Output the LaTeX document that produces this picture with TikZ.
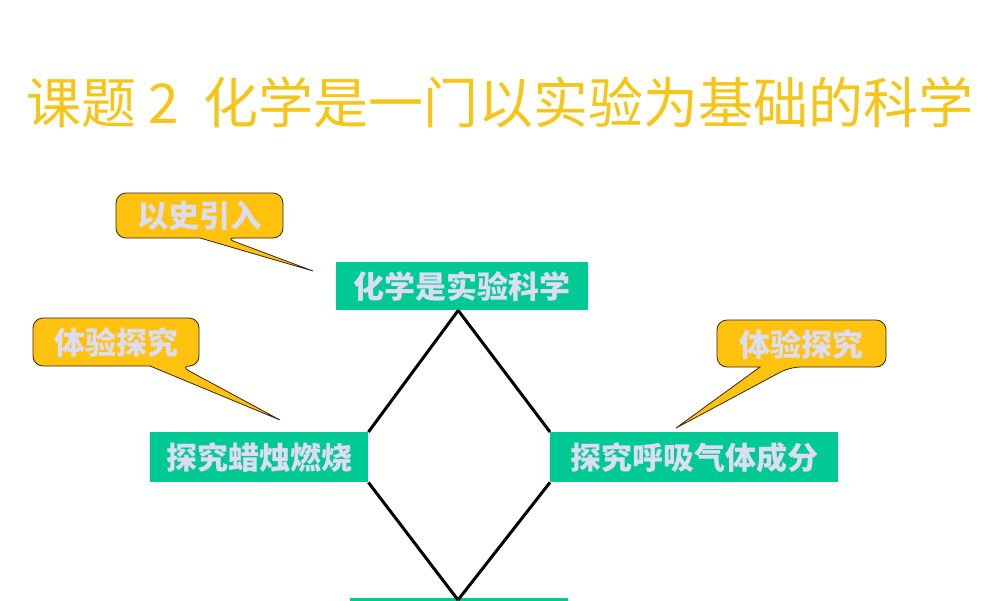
\documentclass[tikz,border=0pt]{standalone}
\usepackage{fontspec}
\newfontfamily\cjk{Noto Sans CJK SC}
\definecolor{gold}{HTML}{F5C518}
\definecolor{callfill}{HTML}{FFC20E}
\definecolor{teal}{HTML}{00C994}
\definecolor{lav}{HTML}{DCDCF2}
\begin{document}
\begin{tikzpicture}[x=1pt,y=-1pt,
  box/.style={fill=teal,text=lav,font=\cjk\bfseries\fontsize{31}{31}\selectfont,inner sep=0pt,anchor=north west},
  call/.style={fill=callfill,draw=black!70!brown,line width=0.8pt},
  calltxt/.style={text=lav,font=\cjk\bfseries\fontsize{31}{31}\selectfont},
  edge/.style={line width=3pt,black}]
\path[use as bounding box] (0,0) rectangle (1000,600);
\node[text=gold,font=\cjk\fontsize{55}{55}\selectfont] (title) at (500,103) {课题 2\ \ 化学是一门以实验为基础的科学};
\node[box,minimum width=252pt,minimum height=48pt] (top) at (336,262) {化学是实验科学};
\node[box,minimum width=218pt,minimum height=50pt] (left) at (150,432) {探究蜡烛燃烧};
\node[box,minimum width=288pt,minimum height=50pt] (right) at (550,432) {探究呼吸气体成分};
\node[box,minimum width=218pt,minimum height=20pt] (bottom) at (350,598) {};
\coordinate (b) at (458,600);
\draw[edge] ([xshift=-4pt]top.south) -- (left.north east);
\draw[edge] ([xshift=-4pt]top.south) -- (right.north west);
\draw[edge] (left.south east) -- (b);
\draw[edge] (right.south west) -- (b);
\draw[call,rounded corners=10] (200,238) -- (116,238) -- (116,193) -- (283,193) -- (283,238) -- (225,238) [sharp corners] -- (313,271) -- cycle;
\node[calltxt] (c1) at (199,216) {以史引入};
\draw[call,rounded corners=10] (150,366) -- (33,366) -- (33,318) -- (199,318) -- (199,366) -- (180,366) [sharp corners] -- (280,420) -- cycle;
\node[calltxt] (c2) at (116,342) {体验探究};
\draw[call,rounded corners=10] (760,367) -- (717,367) -- (717,320) -- (886,320) -- (886,367) -- (790,367) [sharp corners] -- (676,428) -- cycle;
\node[calltxt] (c3) at (801,344) {体验探究};
\end{tikzpicture}
\end{document}
